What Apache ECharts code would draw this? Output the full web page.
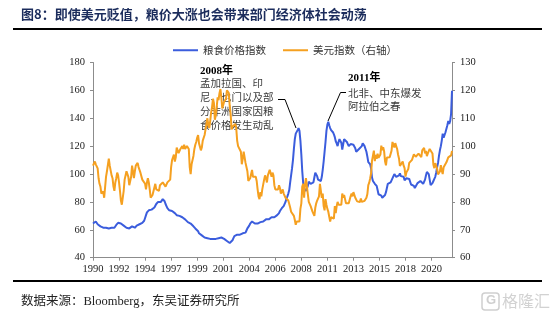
<!DOCTYPE html>
<html>
<head>
<meta charset="utf-8">
<script src="https://cdn.jsdelivr.net/npm/echarts@6/dist/echarts.min.js"></script>
<style>
  html, body { margin: 0; padding: 0; background: #fff; }
  #chart { width: 554px; height: 321px; }
</style>
</head>
<body>
<div id="chart"></div>
<script>
// Monthly series, January 1990 to March 2022.
const startYear = 1990;
const labelEvery = 28; // months between year labels on the time axis

// FAO food price index (left axis), one row per year
const food1990s = [
  64.5, 65, 65.5, 66, 65, 64, 63.5, 63, 62.5, 62, 61.5, 61.5,
  61, 61.5, 61.5, 62, 61.5, 61, 60.5, 61, 61.5, 61.5, 62, 61.5,
  62.5, 63.5, 64.5, 65, 66, 65.5, 64.5, 64, 63.5, 63, 62.5, 62,
  61.5, 61, 61, 61, 61.5, 62, 62.5, 63, 62, 61.5, 62, 63,
  63.5, 64, 64, 64.5, 64.5, 65, 65.5, 66.5, 68.5, 70.5, 72.5, 73.5,
  74, 74.5, 75, 74.5, 74, 75, 76, 77, 78.5, 79.5, 80, 80.5,
  79.5, 80, 81, 82, 82, 80.5, 78.5, 77, 75.5, 74.5, 74, 73.5,
  73, 73.5, 73, 72.5, 72, 71, 70.5, 70, 70.5, 70, 69.5, 69.5,
  69, 68.5, 68, 67.5, 67, 66.5, 65.5, 65, 64.5, 64.5, 64, 63.5,
  62.5, 61.5, 61, 60.5, 60, 59, 57.5, 57, 56.5, 56, 55.5, 55
];
const food2000s = [
  54.5, 54, 54.5, 54, 54.5, 54, 53.5, 53, 53.5, 53.5, 53, 53.5,
  53.5, 53, 53.5, 54, 54.5, 54, 54.5, 54.5, 54, 53.5, 53, 52.5,
  52, 51.5, 51, 50.5, 51, 51.5, 52.5, 54, 55.5, 56, 56.5, 56.5,
  57, 57.5, 56.5, 56.5, 57, 57.5, 57, 57, 58, 59.5, 61, 61.5,
  63, 64.5, 65.5, 66, 66.5, 65.5, 64.5, 64, 64, 64.5, 65, 65.5,
  65.5, 65.5, 66.5, 66, 66.5, 67, 67.5, 67.5, 67, 67.5, 68, 68.5,
  69, 69.5, 69, 69, 70, 70, 70.5, 71, 72, 73.5, 74.5, 75.5,
  76, 77, 78, 80, 82.5, 84, 86, 88.5, 94, 99, 104, 110,
  118, 125, 129, 130, 131.5, 133, 131, 124, 114, 102, 93.5, 89.5,
  88.5, 88, 89, 91.5, 94.5, 95.5, 93, 93.5, 92, 94, 97.5, 101
];
const food2010s = [
  100, 98.5, 96, 95.5, 95.5, 95, 98, 103, 109, 116, 123, 131,
  135.5, 137.5, 135, 133, 131.5, 130.5, 130, 128.5, 126.5, 123.5, 122, 120,
  123, 125, 125.5, 122.5, 117.5, 116.5, 125, 125.5, 124.5, 123, 121.5, 120,
  120.5, 121.5, 121, 120.5, 121, 120.5, 118.5, 116, 116, 117, 118, 117.5,
  117.5, 120, 122, 121, 120, 118, 116, 112.5, 108.5, 108, 107, 104,
  97.5, 95, 94, 93, 92.5, 91.5, 88.5, 85.5, 85, 86, 84.5, 83,
  82, 83, 85, 87, 90, 93, 92.5, 93, 94, 95.5, 95.5, 96.5,
  100, 101, 98, 97.5, 98.5, 99, 100.5, 98.5, 99, 98, 98, 95.5,
  95, 97, 97, 97, 96.5, 94.5, 92.5, 92.5, 92, 91.5, 90, 90,
  91, 93.5, 93.5, 94.5, 95, 95, 94, 93, 93.5, 96, 99, 101.5
];
const food2020s = [
  102.5, 100, 96, 92, 91, 93.5, 95, 96.5, 98, 101, 105, 108,
  113, 117, 120, 124, 129, 126, 127, 130, 131, 135, 138, 136,
  138, 143, 159.7
];

// US dollar index (right axis), one row per year
const dollar1990s = [
  93, 92.5, 94.5, 93.5, 93, 92, 88.5, 86.5, 85.5, 83, 82.5, 83.8,
  81.5, 81, 89, 91, 91.5, 95.5, 93, 93, 89.5, 88.5, 85.5, 84,
  87, 88.5, 90.5, 89.5, 87, 84, 80.5, 79, 78.5, 84, 88, 89.5,
  91, 90.5, 89, 86, 86, 89, 93, 91, 88.5, 91, 93, 92.5,
  94, 92.5, 91.5, 90.5, 90.5, 88, 87.5, 88, 86.5, 84.5, 87, 88.5,
  87, 84.5, 81.5, 81.5, 82.5, 82.5, 83, 86.5, 84.5, 84, 84.5, 84,
  86, 85.5, 86, 87, 87.5, 87.5, 85.5, 85.5, 87, 87, 87.5, 88,
  92.5, 95, 95, 97, 94.5, 96, 99.5, 99, 97.5, 97.5, 99, 99.5,
  100, 99, 100.5, 99, 99.5, 100, 100.5, 99, 92.5, 90, 93.5, 94,
  96.5, 99, 100.5, 101.5, 103, 104, 101, 100.5, 98.5, 99.5, 102, 101.5
];
const dollar2000s = [
  104, 106, 106, 110, 107.5, 106.5, 109, 112, 114, 117, 115.5, 109.5,
  111, 114, 117.5, 116.5, 119, 120.5, 117.5, 113.5, 113.5, 116, 116.5, 117,
  120, 119.5, 119, 114.5, 111.5, 106, 107, 107.5, 107.5, 108, 106.5, 102,
  100, 100, 100.5, 98, 93.5, 95.5, 98, 98.5, 94, 93.5, 91, 87.5,
  87.5, 88.5, 88, 91.5, 89, 88.5, 89.5, 89, 87.5, 84.5, 82, 81,
  83.5, 82, 84.5, 84.5, 88, 89.5, 88.5, 87, 89.5, 90, 91.5, 91,
  89, 90.5, 89.5, 86, 84.5, 85, 85, 84.5, 86, 85, 83, 83.5,
  84.5, 83, 82.5, 81.5, 82, 81.5, 80.5, 81, 78, 76.5, 76, 76.5,
  75, 73.5, 71.8, 73, 72.5, 72.5, 73, 77.5, 79.5, 85.5, 86.5, 81.5,
  86.5, 88.5, 85.5, 85, 80, 80, 78.5, 78.5, 76.5, 76.5, 75, 77.9
];
const dollar2010s = [
  79.5, 80.5, 81, 82, 86.5, 86, 81.5, 83, 78.5, 77, 81, 79,
  77.5, 76.5, 76, 73, 74.5, 74, 74, 74, 78.5, 76, 78.5, 80,
  79, 78.5, 79, 79, 83, 81.5, 82.5, 81, 79.5, 80, 80, 79.5,
  79, 82, 83, 82, 83.5, 83, 81.5, 82, 80.2, 80.2, 80.7, 80,
  81.2, 80, 80.1, 79.5, 80.4, 79.8, 81.5, 82.8, 86, 86.9, 88.4, 90.3,
  94.8, 95.3, 98.4, 94.6, 96.9, 95.5, 97.3, 95.8, 96.3, 97, 100.2, 98.6,
  99.6, 98.2, 94.6, 93.1, 95.9, 96.1, 95.5, 96, 95.4, 98.4, 101.5, 102.2,
  99.5, 101.1, 100.4, 99, 97, 95.6, 92.9, 92.7, 93.1, 94.5, 93, 92.1,
  89.1, 90.6, 90.1, 91.8, 94, 94.5, 94.5, 95.1, 95.1, 97.1, 97.3, 96.2,
  95.6, 96.2, 97.3, 97.5, 97.8, 96.1, 98.5, 98.9, 99.4, 97.4, 98.3, 96.4
];
const dollar2020s = [
  97.4, 98.1, 99, 99, 98.3, 97.4, 93.3, 92.1, 93.9, 94, 91.9, 89.9,
  90.6, 90.9, 93.2, 91.3, 90, 92.4, 92.2, 92.6, 94.2, 94.1, 96, 95.7,
  96.5, 96.7, 98.3
];

const foodIndex = [].concat(food1990s, food2000s, food2010s, food2020s);
const dollarIndex = [].concat(dollar1990s, dollar2000s, dollar2010s, dollar2020s);

// Month categories "YYYY-MM"; only the year is printed on the axis
const months = foodIndex.map(function (_, i) {
  const y = startYear + Math.floor(i / 12);
  const m = (i % 12) + 1;
  return y + '-' + (m < 10 ? '0' + m : m);
});

const seriesNames = ['粮食价格指数', '美元指数（右轴）'];
const titleText = '图8：即使美元贬值，粮价大涨也会带来部门经济体社会动荡';
const sourceText = '数据来源：Bloomberg，东吴证券研究所';
const note2008 = ['孟加拉国、印', '尼、也门以及部', '分非洲国家因粮', '食价格发生动乱'];
const note2011 = ['北非、中东爆发', '阿拉伯之春'];

const SERIF = "'Liberation Serif', 'Noto Sans CJK SC', serif";
const CJK = "'Noto Sans CJK SC', 'Liberation Serif', sans-serif";
const BLUE = '#3b5ddd';
const ORANGE = '#f5a020';
const AXIS = '#8c8c8c';

const chart = echarts.init(document.getElementById('chart'), null, { renderer: 'canvas' });

function onLabelStep(i) { return i % labelEvery === 0; }

function noteLines(lines, x, y0, step) {
  return lines.map(function (t, k) {
    return {
      type: 'text', left: x, top: y0 + k * step, z: 0,
      style: { text: t, fontSize: 10.5, fontFamily: CJK, fill: '#3a3a3a' }
    };
  });
}

chart.setOption({
  animation: false,
  backgroundColor: '#fff',
  grid: { left: 93, right: 102, top: 62.5, bottom: 63.3, containLabel: false },
  legend: {
    left: 168, top: 40,
    icon: 'rect', itemWidth: 25, itemHeight: 2, itemGap: 17,
    textStyle: { fontSize: 10.5, color: '#333', fontFamily: CJK },
    data: seriesNames
  },
  xAxis: {
    type: 'category',
    data: months,
    boundaryGap: false,
    axisLine: { lineStyle: { color: AXIS, width: 1 } },
    axisTick: { show: true, interval: onLabelStep, length: 3, lineStyle: { color: AXIS } },
    axisLabel: {
      interval: onLabelStep, hideOverlap: false,
      margin: 6, fontSize: 10.5, color: '#222', fontFamily: SERIF,
      formatter: function (v) { return v.slice(0, 4); }
    },
    splitLine: { show: false }
  },
  yAxis: [
    {
      type: 'value', min: 40, max: 180, interval: 20,
      axisLine: { show: true, lineStyle: { color: AXIS } },
      axisTick: { show: true, length: 3, lineStyle: { color: AXIS } },
      axisLabel: { margin: 8, fontSize: 10.5, color: '#222', fontFamily: SERIF },
      splitLine: { show: false }
    },
    {
      type: 'value', min: 60, max: 130, interval: 10,
      axisLine: { show: true, lineStyle: { color: AXIS } },
      axisTick: { show: true, length: 3, lineStyle: { color: AXIS } },
      axisLabel: { margin: 8, fontSize: 10.5, color: '#222', fontFamily: SERIF },
      splitLine: { show: false }
    }
  ],
  series: [
    {
      name: seriesNames[0], type: 'line', yAxisIndex: 0, data: foodIndex,
      showSymbol: false, z: 3,
      lineStyle: { color: BLUE, width: 2 }, itemStyle: { color: BLUE }
    },
    {
      name: seriesNames[1], type: 'line', yAxisIndex: 1, data: dollarIndex,
      showSymbol: false, z: 4,
      lineStyle: { color: ORANGE, width: 2 }, itemStyle: { color: ORANGE }
    }
  ],
  graphic: [].concat(
    [
      {
        type: 'text', left: 21, top: 8,
        style: { text: titleText, fontSize: 13, fontWeight: 'bold', fontFamily: CJK, fill: '#1b2c5c' }
      },
      { type: 'rect', shape: { x: 13, y: 28, width: 529, height: 2 }, style: { fill: '#000' } },
      { type: 'rect', shape: { x: 13, y: 280, width: 529, height: 2 }, style: { fill: '#000' } },
      {
        type: 'text', left: 21, top: 295,
        style: { text: sourceText, fontSize: 12.5, fontFamily: SERIF, fill: '#222' }
      },
      // watermark mark in the lower right corner
      {
        type: 'rect', shape: { x: 482, y: 293, width: 17, height: 17, r: 3 },
        style: { fill: 'none', stroke: '#cfcfcf', lineWidth: 1.5 }
      },
      {
        type: 'text', left: 486, top: 294,
        style: { text: 'G', fontSize: 13, fontWeight: 'bold', fontFamily: "'Liberation Sans', sans-serif", fill: '#cfcfcf' }
      },
      {
        type: 'text', left: 502, top: 293,
        style: { text: '格隆汇', fontSize: 16, fontFamily: CJK, fill: '#d2d2d2' }
      },
      // 2008 annotation
      {
        type: 'text', left: 200, top: 66, z: 0,
        style: { text: '2008年', fontSize: 11, fontWeight: 'bold', fontFamily: SERIF, fill: '#000' }
      },
      {
        type: 'polyline', z: 0,
        shape: { points: [[278, 99.5], [285, 99.5], [296, 128]] },
        style: { stroke: '#000', lineWidth: 1, fill: 'none' }
      },
      // 2011 annotation
      {
        type: 'text', left: 348, top: 73, z: 0,
        style: { text: '2011年', fontSize: 11, fontWeight: 'bold', fontFamily: SERIF, fill: '#000' }
      },
      {
        type: 'polyline', z: 0,
        shape: { points: [[346, 92.5], [340.5, 92.5], [328, 121]] },
        style: { stroke: '#000', lineWidth: 1, fill: 'none' }
      }
    ],
    noteLines(note2008, 200, 78, 14),
    noteLines(note2011, 348, 87.5, 13.5)
  )
});
</script>
</body>
</html>
